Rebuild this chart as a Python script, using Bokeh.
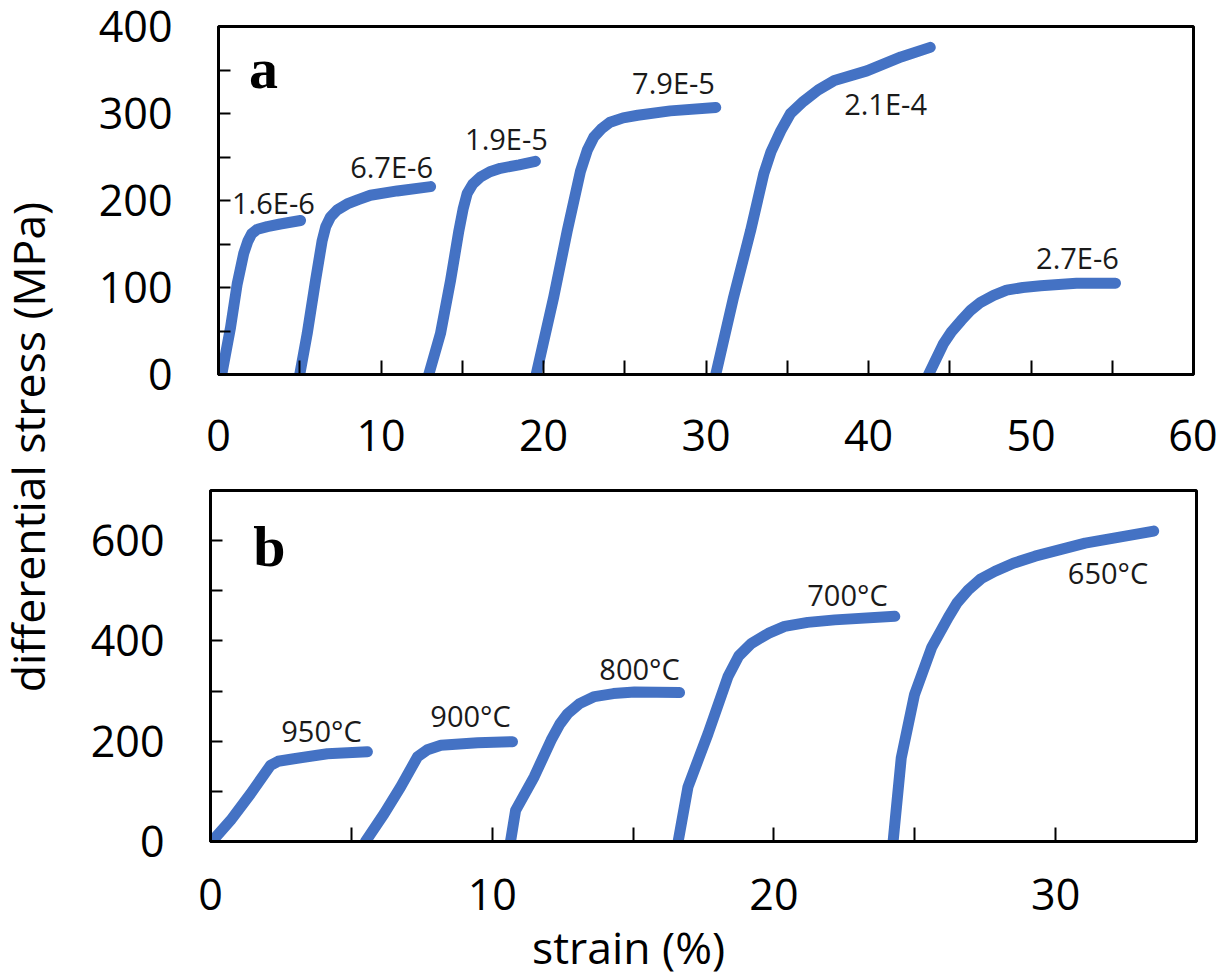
import math
from bokeh.plotting import figure
from bokeh.layouts import row, column
from bokeh.models import Range1d, FixedTicker, Label
from bokeh.core.properties import value
from bokeh.embed import file_html
from bokeh.resources import INLINE

# ---------------- data: panel a (strain %, differential stress MPa) ----------------
a_names = ["1.6E-6", "6.7E-6", "1.9E-5", "7.9E-5", "2.1E-4", "2.7E-6"]

a1_strain = [0.2, 0.74, 1.15, 1.55, 1.8, 2.05, 2.4, 3.0, 3.8, 5.05]
a1_stress = [0, 54, 104, 139, 153, 162, 167, 170, 173, 177]

a2_strain = [5.0, 5.46, 5.97, 6.38, 6.6, 6.89, 7.3, 7.92, 8.6, 9.35, 11.0, 13.05]
a2_stress = [0, 47, 108, 154, 170, 181, 189, 196, 201, 206, 211, 216]

a3_strain = [12.94, 13.66, 14.28, 14.79, 15.05, 15.3, 15.65, 16.12, 16.7, 17.35, 18.5, 19.5]
a3_stress = [0, 47, 108, 165, 190, 208, 219, 227, 233, 237, 241, 245]

a4_strain = [19.55, 20.63, 21.46, 22.28, 22.7, 23.1, 23.6, 24.1, 24.9, 25.8, 27.8, 30.6]
a4_stress = [0, 89, 165, 234, 258, 273, 283, 290, 295, 298, 303, 307]

a5_strain = [30.6, 31.7, 32.74, 33.56, 34.0, 34.6, 35.2, 36.0, 36.9, 37.9, 39.9, 42.0, 43.8]
a5_stress = [0, 89, 165, 231, 256, 280, 300, 314, 327, 338, 349, 365, 376]

a6_strain = [43.7, 44.6, 45.1, 45.7, 46.3, 46.9, 47.7, 48.5, 49.5, 50.6, 52.8, 55.2]
a6_stress = [0, 35, 49, 62, 74, 83, 91, 97, 100, 102, 105, 105]

a_label_x = [3.38, 10.65, 17.72, 28.0, 41.05, 52.86]
a_label_y = [198, 239, 271, 336, 312, 134]

a_xticks = [0, 10, 20, 30, 40, 50, 60]
a_xminor = [5, 15, 25, 35, 45, 55]
a_yticks = [0, 100, 200, 300, 400]
a_yminor = [50, 150, 250, 350]

# ---------------- data: panel b ----------------
b_names = ["950°C", "900°C", "800°C", "700°C", "650°C"]

b1_strain = [0.05, 0.71, 1.42, 2.13, 2.4, 2.96, 4.15, 5.57]
b1_stress = [0, 42, 95, 152, 160, 165, 175, 179]

b2_strain = [5.5, 6.16, 6.75, 7.35, 7.7, 8.18, 9.48, 10.72]
b2_stress = [0, 55, 109, 169, 183, 192, 197, 199]

b3_strain = [10.65, 10.83, 11.49, 12.09, 12.4, 12.68, 13.1, 13.63, 14.3, 15.05, 16.65]
b3_stress = [0, 62, 129, 202, 234, 255, 275, 289, 295, 298, 297]

b4_strain = [16.6, 16.95, 17.66, 18.37, 18.75, 19.2, 19.8, 20.38, 21.2, 22.16, 24.29]
b4_stress = [0, 109, 215, 329, 370, 395, 415, 429, 437, 442, 449]

b5_strain = [24.23, 24.52, 24.99, 25.6, 26.19, 26.5, 26.9, 27.35, 27.85, 28.5, 29.27, 31.05, 33.48]
b5_stress = [0, 167, 293, 387, 447, 476, 502, 524, 539, 555, 569, 595, 619]

b_label_x = [3.94, 9.23, 15.23, 22.61, 31.86]
b_label_y = [221, 251, 345, 493, 536]

b_xticks = [0, 10, 20, 30]
b_xminor = [5, 15, 25, 35]
b_yticks = [0, 200, 400, 600]
b_yminor = [100, 300, 500]

y_title = "differential stress (MPa)"
x_title = "strain (%)"

# ---------------- styles ----------------
BLUE = "#4472C4"
FONT = "Open Sans"
TICK_FS = "43px"
ANN_FS = "29px"
TITLE_FS = "44.5px"


def style(p, xt, xm, yt, ym, xstand, ystand):
    p.xaxis.ticker = FixedTicker(ticks=xt, minor_ticks=xm)
    p.yaxis.ticker = FixedTicker(ticks=yt, minor_ticks=ym)
    p.xaxis.major_label_standoff = xstand
    p.yaxis.major_label_standoff = ystand
    for ax in (p.xaxis, p.yaxis):
        ax.axis_line_color = "black"
        ax.axis_line_width = 3
        ax.major_tick_line_color = "black"
        ax.minor_tick_line_color = "black"
        ax.major_tick_line_width = 2
        ax.minor_tick_line_width = 2
        ax.major_tick_out = 0
        ax.minor_tick_out = 0
        ax.major_label_text_font = FONT
        ax.major_label_text_font_size = TICK_FS
        ax.major_label_text_color = "black"
    p.xaxis.major_tick_in = 14
    p.xaxis.minor_tick_in = 14
    p.yaxis.major_tick_in = 12
    p.yaxis.minor_tick_in = 12
    p.grid.visible = False
    p.outline_line_color = "black"
    p.outline_line_width = 3
    p.background_fill_color = "white"
    p.border_fill_color = "white"


def strip(w, h, xr, yr, margin=0):
    s = figure(width=w, height=h, x_range=Range1d(*xr), y_range=Range1d(*yr),
               min_border=0, toolbar_location=None, output_backend="svg",
               x_axis_type=None, y_axis_type=None, margin=margin)
    s.outline_line_color = None
    s.grid.visible = False
    s.background_fill_color = None
    s.border_fill_color = None
    return s


# y-axis title strip (page pixel coordinates)
pt = strip(88, 976, (0, 88), (976, 0))
pt.add_layout(Label(x=27, y=446.5, text=y_title, angle=math.pi / 2,
                    text_align="center", text_baseline="middle",
                    text_font=FONT, text_font_size=TITLE_FS, text_color="black"))

# panel a
p1 = figure(frame_width=975, frame_height=348, x_range=Range1d(0, 60), y_range=Range1d(0, 400),
            min_border_left=130, min_border_right=24, min_border_top=26, min_border_bottom=110,
            toolbar_location=None, output_backend="svg")
style(p1, a_xticks, a_xminor, a_yticks, a_yminor, 45, 46)
for xs, ys in [(a1_strain, a1_stress), (a2_strain, a2_stress), (a3_strain, a3_stress),
               (a4_strain, a4_stress), (a5_strain, a5_stress), (a6_strain, a6_stress)]:
    p1.line(xs, ys, line_color=BLUE, line_width=11, line_cap="round", line_join="round")
p1.text(x=a_label_x, y=a_label_y, text=a_names, text_font=value(FONT), text_font_size=ANN_FS,
        text_align="center", text_baseline="middle", text_color="#1a1a1a")
p1.add_layout(Label(x=2.77, y=352, text="a", text_font="Liberation Serif", text_font_style="bold",
                    text_font_size="58px", text_align="center", text_baseline="middle",
                    text_color="black"))

# panel b (column aligns its left border with panel a; shift it 8px left)
p2 = figure(frame_width=986, frame_height=351, x_range=Range1d(0, 35), y_range=Range1d(0, 700),
            min_border_left=130, min_border_right=13, min_border_top=6, min_border_bottom=100,
            toolbar_location=None, output_backend="svg", margin=(0, 0, 0, -8))
style(p2, b_xticks, b_xminor, b_yticks, b_yminor, 37, 46)
for xs, ys in [(b1_strain, b1_stress), (b2_strain, b2_stress), (b3_strain, b3_stress),
               (b4_strain, b4_stress), (b5_strain, b5_stress)]:
    p2.line(xs, ys, line_color=BLUE, line_width=11, line_cap="round", line_join="round")
p2.text(x=b_label_x, y=b_label_y, text=b_names, text_font=value(FONT), text_font_size=ANN_FS,
        text_align="center", text_baseline="middle", text_color="#1a1a1a")
p2.add_layout(Label(x=2.09, y=588, text="b", text_font="Liberation Serif", text_font_style="bold",
                    text_font_size="58px", text_align="center", text_baseline="middle",
                    text_color="black"))

# x-axis title strip, pulled up over the empty lower border of panel b
pb = strip(1129, 60, (218, 1193), (976, 916), margin=(-25, 0, 0, 0))
pb.add_layout(Label(x=628, y=946, text=x_title,
                    text_align="center", text_baseline="middle",
                    text_font=FONT, text_font_size=TITLE_FS, text_color="black"))

layout = row(pt, column(p1, p2, pb))
open("out.html", "w").write(file_html(layout, INLINE))
